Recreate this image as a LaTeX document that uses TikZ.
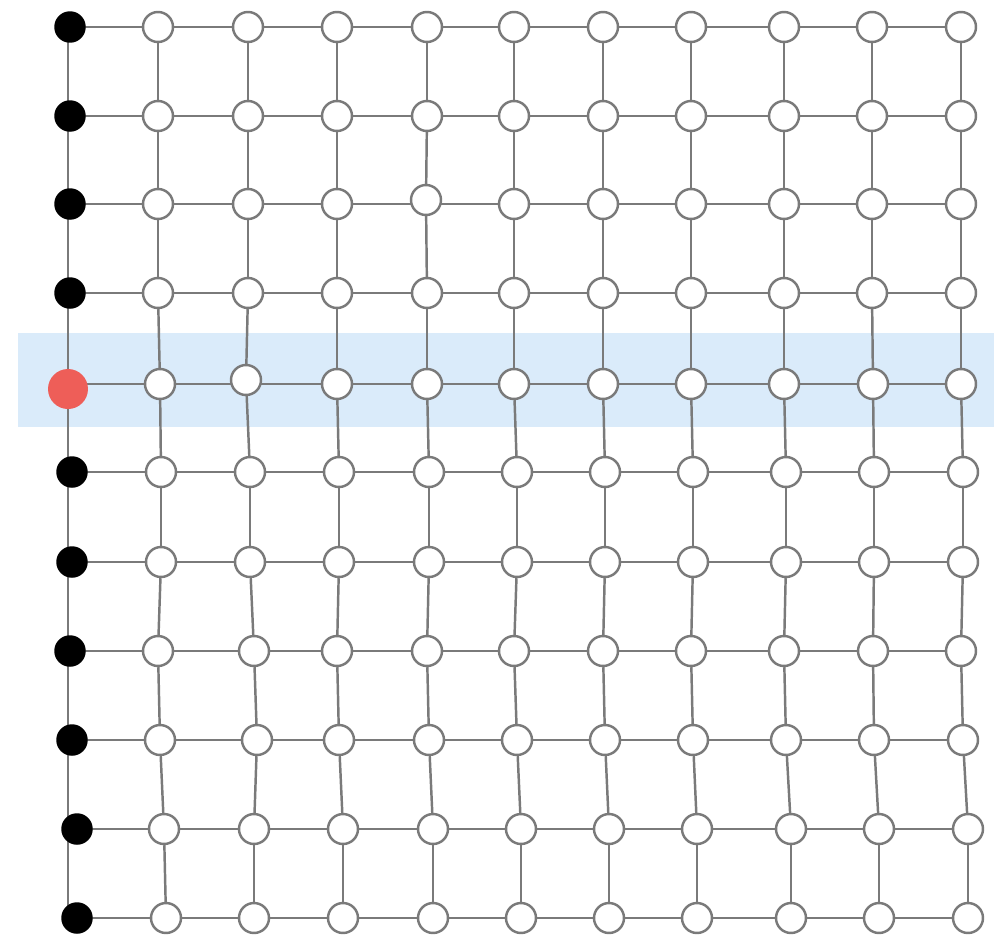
\documentclass[tikz,border=0pt]{standalone}
\usepackage{tikz}
\usetikzlibrary{backgrounds}

\definecolor{edgegray}{HTML}{7A7A7A}
\definecolor{bandblue}{HTML}{DAEBFA}
\definecolor{startred}{HTML}{EE5E58}

\begin{document}
\begin{tikzpicture}[
    x=0.02cm, y=-0.02cm,
    site/.style={circle, draw=edgegray, line width=1.4pt, fill=white, inner sep=0pt, minimum size=0.6cm},
    wall/.style={circle, fill=black, inner sep=0pt, minimum size=0.63cm},
    start/.style={circle, fill=startred, inner sep=0pt, minimum size=0.8cm},
    link/.style={draw=edgegray, line width=1.4pt}
]
    \useasboundingbox (0,0) rectangle (994,940);

    % boundary column
    \foreach \r/\x/\y in {0/70/27,1/70/116,2/70/204,3/70/293,5/72/472,6/72/562,7/70/651,8/72/740,9/77/829,10/77/918}
        \node [wall] (v-\r-0) at (\x,\y) {};
    \node [start] (v-4-0) at (68,389) {};

    % inner sites, row by row
    \foreach \xs [count=\r from 0] in {%
        {158/27,248/27,337/27,427/27,514/27,603/27,691/27,784/27,872/27,961/27},%
        {158/116,248/116,337/116,427/116,514/116,603/116,691/116,784/116,872/116,961/116},%
        {158/204,248/204,337/204,426/200,514/204,603/204,691/204,784/204,872/204,961/204},%
        {158/293,248/293,337/293,427/293,514/293,603/293,691/293,784/293,872/293,961/293},%
        {160/384,246/380,337/384,427/384,514/384,603/384,691/384,784/384,873/384,961/384},%
        {161/472,250/472,339/472,429/472,517/472,605/472,693/472,786/472,874/472,963/472},%
        {161/562,250/562,339/562,429/562,517/562,605/562,693/562,786/562,874/562,963/562},%
        {158/651,254/651,337/651,427/651,514/651,603/651,691/651,784/651,873/651,961/651},%
        {160/740,257/740,339/740,429/740,517/740,605/740,693/740,786/740,874/740,963/740},%
        {164/829,254/829,343/829,433/829,521/829,609/829,697/829,791/829,879/829,968/829},%
        {166/918,254/918,343/918,433/918,521/918,609/918,697/918,791/918,879/918,968/918}}
        \foreach \x/\y [count=\c] in \xs
            \node [site] (v-\r-\c) at (\x,\y) {};

    \begin{scope}[on background layer]
        \fill [bandblue] (18,333) rectangle (994,427);
        % boundary line
        \draw [link] (v-4-0 |- v-0-0) -- (v-4-0 |- v-10-0);
        % rows, straight at the row height
        \foreach \r in {0,...,10}
            \draw [link] (v-\r-0 |- v-\r-10) -- (v-\r-10);
        % columns
        \foreach \c in {1,...,10}
            \foreach \r in {0,...,9} {
                \pgfmathtruncatemacro{\nr}{\r+1}
                \draw [link] (v-\r-\c) -- (v-\nr-\c);
            }
    \end{scope}
\end{tikzpicture}
\end{document}
